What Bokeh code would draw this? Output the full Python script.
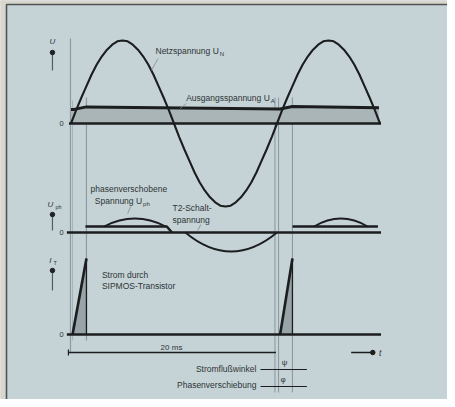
import numpy as np
from bokeh.plotting import figure
from bokeh.models import Range1d
from bokeh.core.properties import value
from bokeh.embed import file_html
from bokeh.resources import INLINE

# ---------------- data ----------------
# mains voltage U_N, normalised, sampled every 0.5 ms from 0 to 30 ms
t_mains = np.arange(0, 30.5, 0.5)
u_mains = [0, .16, .31, .45, .59, .71, .81, .89, .95, .99, 1.0,
           .99, .95, .89, .81, .71, .59, .45, .31, .16, 0,
           -.16, -.31, -.45, -.59, -.71, -.81, -.89, -.95, -.99, -1.0,
           -.99, -.95, -.89, -.81, -.71, -.59, -.45, -.31, -.16, 0,
           .16, .31, .45, .59, .71, .81, .89, .95, .99, 1.0,
           .99, .95, .89, .81, .71, .59, .45, .31, .16, 0]

# output voltage U_A (relative to mains amplitude), small charging ripple
t_out = [0.0, 0.3, 1.5, 20.3, 21.5, 29.9]
u_out = [0.17, 0.17, 0.20, 0.175, 0.205, 0.19]

# phase-shifted voltage U_ph / T2 switching voltage (mid panel units)
t_sw1 = [1.4, 9.3, 9.8]
u_sw1 = [0.3, 0.3, 0.0]
t_sw2 = [21.5, 29.8]
u_sw2 = [0.3, 0.3]
arc_start = [3.2, 23.6, 11.1]
arc_end = [9.2, 28.8, 20.0]
arc_base = [0.3, 0.3, 0.0]
arc_peak = [0.7, 0.7, -0.95]

# transistor current I_T pulses (normalised)
pulse_start = [0.15, 20.3]
pulse_end = [1.5, 21.5]
pulse_peak = [1.0, 1.0]

# guide lines (ms)
guide_t = [1.5, 20.0, 21.5]
period_ms = 20

# ---------------- layout ----------------
W, H = 447, 399
PX_PER_MS = 10.3
X0 = -70.5 / PX_PER_MS
BASE_TOP, BASE_MID, BASE_BOT = -115, -224, -326
SC_TOP, SC_MID, SC_BOT = 83, 20, 76

INK = "#1b1d1e"
TXT = "#2e3335"
GUIDE = "#8d9ba1"
BG = "#c5d3d7"
FONT = value("Liberation Sans")

p = figure(width=W, height=H, output_backend="svg", toolbar_location=None,
           x_range=Range1d(X0, X0 + W / PX_PER_MS), y_range=Range1d(8 - H, 8),
           min_border=0)
p.axis.visible = False
p.grid.visible = False
p.outline_line_color = None
p.background_fill_color = BG
p.border_fill_color = BG

# scanned page frame (top-left corner of the printed box)
def px_t(px):
    return X0 + px / PX_PER_MS

def px_y(py):
    return 8 - py

p.quad(left=[px_t(-1), px_t(-1)], right=[px_t(6), px_t(W + 1)],
       top=[px_y(-1), px_y(-1)], bottom=[px_y(H + 1), px_y(4)],
       fill_color="#d9d6cd", line_color=None)
p.line(x=[px_t(6), px_t(6), px_t(W + 1)], y=[px_y(H + 1), px_y(4), px_y(4)],
       line_color="#505354", line_width=1.6)

# vertical guide lines
p.segment(x0=[-0.05], y0=[-30], x1=[-0.05], y1=[-344], line_color=GUIDE, line_width=1.2)
p.segment(x0=[0.15], y0=[-92], x1=[0.15], y1=[-332], line_color=GUIDE, line_width=0.8, line_alpha=0.7)
p.segment(x0=[guide_t[0]], y0=[-89], x1=[guide_t[0]], y1=[-332], line_color=GUIDE, line_width=1.2)
p.segment(x0=[guide_t[1] - 0.2, guide_t[1] + 0.15, guide_t[2]], y0=[-89, -89, -89],
          x1=[guide_t[1] - 0.2, guide_t[1] + 0.15, guide_t[2]], y1=[-384, -384, -384],
          line_color=GUIDE, line_width=1.1)

# ---- top panel ----
t_out_a = np.array(t_out)
u_out_a = np.array(u_out) * SC_TOP + BASE_TOP
p.varea(x=t_out_a, y1=u_out_a, y2=np.full_like(t_out_a, BASE_TOP), fill_color="#aab5b8")
p.line(x=[-0.2, 30.1], y=[BASE_TOP, BASE_TOP], line_color=INK, line_width=2.6)
p.line(x=t_out_a, y=u_out_a, line_color=INK, line_width=3.0)
p.line(x=t_mains, y=np.array(u_mains) * SC_TOP + BASE_TOP, line_color=INK, line_width=2.1)

# ---- middle panel ----
p.line(x=[-0.4, 30.1], y=[BASE_MID, BASE_MID], line_color=INK, line_width=2.6)
p.line(x=t_sw1, y=np.array(u_sw1) * SC_MID + BASE_MID, line_color=INK, line_width=2.6)
p.line(x=t_sw2, y=np.array(u_sw2) * SC_MID + BASE_MID, line_color=INK, line_width=2.6)
a_s, a_e = np.array(arc_start), np.array(arc_end)
a_b, a_p = np.array(arc_base), np.array(arc_peak)
p.quadratic(x0=a_s, y0=a_b * SC_MID + BASE_MID, x1=a_e, y1=a_b * SC_MID + BASE_MID,
            cx=(a_s + a_e) / 2, cy=(2 * a_p - a_b) * SC_MID + BASE_MID,
            line_color=INK, line_width=1.8)

# ---- bottom panel ----
for s, e, pk in zip(pulse_start, pulse_end, pulse_peak):
    p.patch(x=[s, e, e], y=[BASE_BOT, BASE_BOT + pk * SC_BOT, BASE_BOT],
            fill_color="#98a4a8", line_color=None)
    p.line(x=[s, e], y=[BASE_BOT, BASE_BOT + pk * SC_BOT], line_color=INK, line_width=2.6)
    p.line(x=[e, e], y=[BASE_BOT + pk * SC_BOT, BASE_BOT], line_color=INK, line_width=1.3)
p.line(x=[-0.4, 30.1], y=[BASE_BOT, BASE_BOT], line_color=INK, line_width=2.6)

# ---- axis arrows (dot-headed) ----
for yt, yb in [(-44, -62), (-206, -222), (-262, -282)]:
    p.segment(x0=[-1.8], y0=[yt], x1=[-1.8], y1=[yb], line_color="#555c60", line_width=1.2)
    p.scatter(x=[-1.8], y=[yt], size=4.5, color="#202325")

def txt(x, y, s, size=8.5, align="left", baseline="middle", color=TXT, style="normal", angle=0):
    p.text(x=[x], y=[y], text=[s], text_font=FONT, text_font_size=f"{size}px",
           text_align=align, text_baseline=baseline, text_color=color,
           text_font_style=style, angle=angle)

# axis symbols
txt(-1.8, -33, "U", 8, align="center", style="italic")
txt(-2.0, -196, "U", 8, align="center", style="italic")
txt(-1.5, -198, "ph", 5.5, align="left")
txt(-2.0, -252, "I", 8, align="center", style="italic")
txt(-1.7, -254, "T", 5.5, align="left")
for yb in (BASE_TOP, BASE_MID, BASE_BOT):
    txt(-0.7, yb, "0", 7.5, align="right")

# labels
txt(14.35, -42, "Netzspannung U", 8.5, align="right")
txt(14.45, -45, "N", 6, align="left")
txt(19.3, -89, "Ausgangsspannung U", 8.5, align="right")
txt(19.4, -92, "A", 6, align="left")
txt(1.9, -180, "phasenverschobene", 8.5)
txt(6.9, -192, "Spannung U", 8.5, align="right")
txt(7.0, -195, "ph", 6)
txt(9.85, -199, "T2-Schalt-", 8.5)
txt(9.85, -211, "spannung", 8.5)
txt(3.0, -266, "Strom durch", 8.5)
txt(3.0, -277, "SIPMOS-Transistor", 8.5)

# leaders
p.segment(x0=[8.45, 11.2, 5.8, 12.6], y0=[-50, -95, -198, -216],
          x1=[7.8, 10.6, 5.5, 12.3], y1=[-62, -100, -205, -222],
          line_color="#7d8a8f", line_width=0.8)

# 20 ms dimension and time arrow
p.line(x=[-0.25, period_ms - 0.1], y=[-344, -344], line_color=INK, line_width=1.5)
p.segment(x0=[-0.25], y0=[-341], x1=[-0.25], y1=[-347], line_color=INK, line_width=1.2)
txt(8.7, -339, "20 ms", 8)
p.line(x=[27.2, 29.3], y=[-344, -344], line_color=INK, line_width=1.5)
p.scatter(x=[29.3], y=[-344], size=4.5, color=INK)
txt(29.9, -344, "t", 8.5, style="italic")

# angle annotations
txt(18.0, -360, "Stromflußwinkel", 8.5, align="right")
p.line(x=[18.4, 22.9], y=[-361, -361], line_color=INK, line_width=1.2)
txt(20.75, -358, "ψ", 8, align="center", baseline="bottom")
txt(18.0, -376, "Phasenverschiebung", 8.5, align="right")
p.line(x=[18.4, 22.9], y=[-378, -378], line_color=INK, line_width=1.2)
txt(20.6, -375, "φ", 8, align="center", baseline="bottom")

open("out.html", "w").write(file_html(p, INLINE))
